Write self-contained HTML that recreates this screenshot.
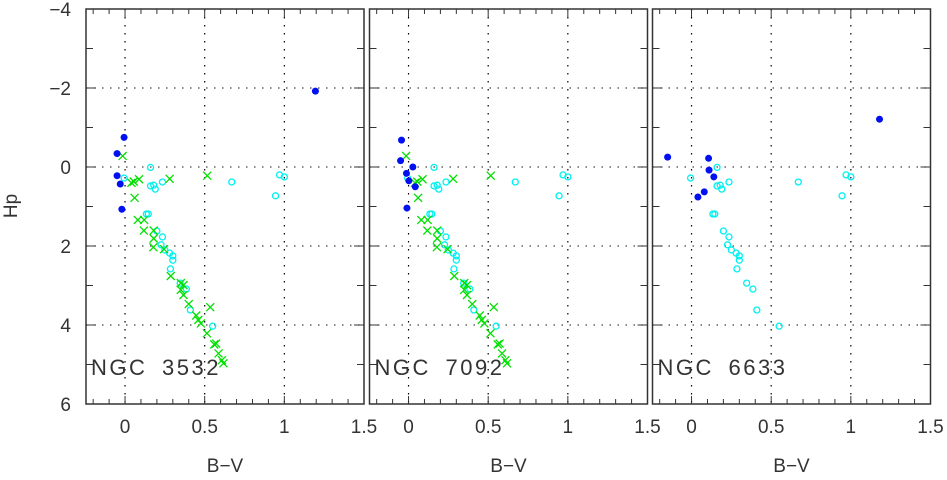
<!DOCTYPE html>
<html><head><meta charset="utf-8"><style>
html,body{margin:0;padding:0;background:#fff;}
svg{display:block;font-family:"Liberation Sans","DejaVu Sans",sans-serif;}
</style></head><body>
<svg id="c" width="947" height="480" viewBox="0 0 947 480"></svg>
<script>
const panelNames = ["NGC 3532","NGC 7092","NGC 6633"];
const xTicks = [0,0.5,1,1.5];
const xTickLabels = ["0","0.5","1","1.5"];
const yTicks = [-4,-2,0,2,4,6];
const yTickLabels = ["\u22124","\u22122","0","2","4","6"];
const cyanBV = [-0.006,0.16,0.16,0.18,0.19,0.235,0.67,0.97,1.0,0.945,0.134,0.146,0.2,0.235,0.226,0.25,0.28,0.3,0.3,0.285,0.346,0.385,0.41,0.55];
const cyanHp = [0.28,0.01,0.48,0.46,0.56,0.38,0.38,0.2,0.25,0.73,1.19,1.19,1.62,1.77,1.97,2.1,2.18,2.25,2.36,2.58,2.94,3.09,3.62,4.03];
const greenBV = [-0.015,0.04,0.055,0.088,0.28,0.516,0.06,0.08,0.12,0.118,0.18,0.18,0.178,0.245,0.287,0.35,0.367,0.35,0.367,0.4,0.535,0.447,0.46,0.476,0.514,0.56,0.572,0.587,0.618,0.608];
const greenHp = [-0.28,0.4,0.37,0.31,0.3,0.22,0.78,1.34,1.34,1.61,1.61,1.81,2.03,2.08,2.76,2.94,2.99,3.11,3.24,3.47,3.55,3.76,3.87,3.96,4.21,4.49,4.47,4.72,4.97,4.89];
const blue1BV = [-0.006,-0.05,-0.05,-0.03,-0.02,1.195];
const blue1Hp = [-0.75,-0.34,0.22,0.43,1.07,-1.92];
const blue2BV = [-0.044,-0.05,0.027,-0.013,0.002,0.042,-0.01];
const blue2Hp = [-0.68,-0.16,0,0.16,0.35,0.5,1.04];
const blue3BV = [-0.15,0.107,0.11,0.14,0.08,0.04,1.18];
const blue3Hp = [-0.25,-0.22,0.08,0.25,0.63,0.76,-1.21];
const blueSets = [[blue1BV,blue1Hp],[blue2BV,blue2Hp],[blue3BV,blue3Hp]];
const showGreen = [true,true,false];

const NS="http://www.w3.org/2000/svg";
const svg=document.getElementById('c');
function mk(tag,attrs,parent){const e=document.createElementNS(NS,tag);for(const k in attrs)e.setAttribute(k,attrs[k]);(parent||svg).appendChild(e);return e;}
const lefts=[86,369.5,652.5], W=278, plotTop=9, plotBot=404, xmin=-0.245, xmax=1.5, ymin=-4, ymax=6;
const yS=v=>plotTop+(v-ymin)/(ymax-ymin)*(plotBot-plotTop);

for(let p=0;p<3;p++){
  const L=lefts[p];
  const xS=v=>L+(v-xmin)/(xmax-xmin)*W;
  const g=mk('g',{});
  
  
  [0,0.5,1].forEach(v=>{const l=mk('line',{x1:xS(v),x2:xS(v),y1:plotTop,y2:plotBot,stroke:'#000','stroke-width':1.2,'stroke-dasharray':'1.5 6.5'},g);});
  [-2,0,2,4].forEach(v=>{const l=mk('line',{x1:L,x2:L+W,y1:yS(v),y2:yS(v),stroke:'#444','stroke-width':1.2,'stroke-dasharray':'1.5 6.5'},g);});
  const fr=mk('rect',{x:L,y:plotTop,width:W,height:plotBot-plotTop,fill:'none',stroke:'#333','stroke-width':1.5},g);
  
  for(let i=-2;i<=15;i++){const v=i/10;if(v<xmin)continue;const big=(i%5===0);const len=big?8:5;const x=xS(v);
    mk('line',{x1:x,x2:x,y1:plotBot,y2:plotBot-len,stroke:'#333','stroke-width':1},g);
    mk('line',{x1:x,x2:x,y1:plotTop,y2:plotTop+len,stroke:'#333','stroke-width':1},g);}
  for(let v=-4;v<=6;v++){const len=(v%2===0)?10:7;const y=yS(v);
    mk('line',{x1:L,x2:L+len,y1:y,y2:y,stroke:'#333','stroke-width':1},g);
    mk('line',{x1:L+W,x2:L+W-len,y1:y,y2:y,stroke:'#333','stroke-width':1},g);}
  xTicks.forEach((v,i)=>{const t=mk('text',{x:xS(v),y:433,'font-size':19,'text-anchor':'middle',fill:'#333'},g);t.textContent=xTickLabels[i];});
  const xt=mk('text',{x:L+139,y:472,'font-size':19,'text-anchor':'middle',fill:'#333'},g);xt.textContent='B\u2212V';
  
  const nm=mk('text',{x:L+5,y:375,'font-size':22,fill:'#333','letter-spacing':'2.5','word-spacing':'6'},g);nm.textContent=panelNames[p];
  
  cyanBV.forEach((b,i)=>{const c=mk('circle',{cx:xS(b),cy:yS(cyanHp[i]),r:3,fill:'none',stroke:'#00f0f0','stroke-width':1.3},g);});
  if(showGreen[p]) greenBV.forEach((b,i)=>{const x=xS(b),y=yS(greenHp[i]),s=4;
    const m=mk('path',{d:`M${x-s} ${y-s}L${x+s} ${y+s}M${x-s} ${y+s}L${x+s} ${y-s}`,stroke:'#00e000','stroke-width':1.3,fill:'none'},g);
    });
  const bs=blueSets[p];
  bs[0].forEach((b,i)=>{const c=mk('circle',{cx:xS(b),cy:yS(bs[1][i]),r:3.5,fill:'#0010f0'},g);});
}
yTicks.forEach((v,i)=>{const t=mk('text',{x:71,y:yS(v)+7,'font-size':19,'text-anchor':'end',fill:'#333'});t.textContent=yTickLabels[i];});
const yt=mk('text',{x:17,y:206,'font-size':19,'text-anchor':'middle',fill:'#333',transform:'rotate(-90 17 206)'});yt.textContent='Hp';

</script>
</body></html>
